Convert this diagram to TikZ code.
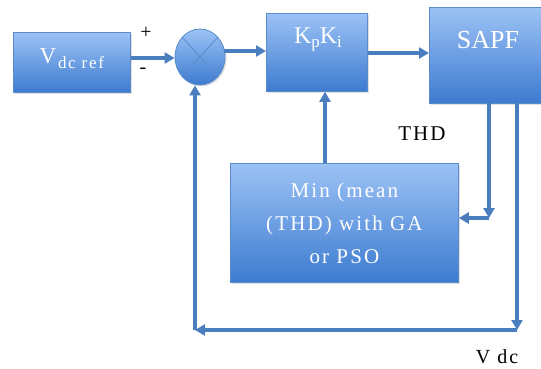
\documentclass[tikz,border=0pt]{standalone}
\usepackage{fontspec}
\setmainfont{Liberation Serif}
\newfontfamily\widefont[LetterSpace=10]{Liberation Serif}
\usetikzlibrary{arrows.meta,shadows,shapes.geometric}
\definecolor{lineblue}{HTML}{4A7EBF}
\definecolor{boxtop}{HTML}{9CC2F5}
\definecolor{boxbot}{HTML}{3D7BD0}
\definecolor{boxedge}{HTML}{5A8BCB}
\tikzset{
  blockbox/.style={draw=boxedge, line width=0.8pt, top color=boxtop, bottom color=boxbot,
    text=white, align=center, inner sep=0pt, anchor=north west,
    drop shadow={shadow xshift=1.5pt, shadow yshift=-1.5pt, opacity=0.25}},
  conn/.style={draw=lineblue, line width=3.2pt, -{Triangle[length=10pt,width=11pt]}},
  lbl/.style={text=black, inner sep=0pt},
  wtxt/.style={text=white, inner sep=0pt}
}
\begin{document}
\begin{tikzpicture}[x=1pt,y=-1pt]
\useasboundingbox (0,0) rectangle (541,369);
% blocks
\node[blockbox, minimum width=117pt, minimum height=60pt] (ref) at (13,32) {};
\node[wtxt, font=\fontsize{23}{23}\selectfont] (refV) at (48,56) {V};
\node[wtxt, font=\widefont\fontsize{17}{17}\selectfont] (refsub) at (81,63) {dc ref};
\node[blockbox, minimum width=101pt, minimum height=78pt] (pi) at (266,13) {};
\node[wtxt, font=\widefont\fontsize{24}{24}\selectfont] (pitxt) at (318,39) {K\raisebox{-4pt}{\fontsize{17}{17}\selectfont p}K\raisebox{-4pt}{\fontsize{17}{17}\selectfont i}};
\node[blockbox, minimum width=114pt, minimum height=96pt] (sapf) at (429,7) {};
\node[wtxt, font=\fontsize{26}{26}\selectfont] (sapftxt) at (488,40) {SAPF};
\node[blockbox, minimum width=228pt, minimum height=119pt, font=\widefont\fontsize{21}{33}\selectfont] (min) at (230,163) {Min (mean\\(THD) with GA\\or PSO};
% summing junction
\node[draw=boxedge, line width=0.8pt, top color=boxtop, bottom color=boxbot, ellipse, minimum width=50pt, minimum height=56pt, inner sep=0pt,
  drop shadow={shadow xshift=1.5pt, shadow yshift=-1.5pt, opacity=0.25}] (sum) at (200,57) {};
\draw[boxedge, line width=0.8pt] (sum.north west) -- (sum.south east) (sum.north east) -- (sum.south west);
% coordinates
\coordinate (thdtop) at (489,103);
\coordinate (thdcorner) at (489,218);
\coordinate (vdctop) at (517,103);
\coordinate (vdcbot) at (517,330);
\coordinate (leftcorner) at (195,330);
% connectors
\draw[conn] (ref.east |- 0,58) -- (sum.west |- 0,58);
\draw[conn] (224,51) -- (pi.west |- 0,51);
\draw[conn] (pi.east |- 0,53) -- (sapf.west |- 0,53);
\draw[conn] (min.north -| 325,0) -- (pi.south -| 325,0);
\draw[conn] (thdtop) -- (thdcorner);
\draw[conn] (thdcorner) -- (min.east |- thdcorner);
\draw[conn] (vdctop) -- (vdcbot);
\draw[conn] (vdcbot) -- (leftcorner);
\draw[conn] (leftcorner) -- (sum.south -| leftcorner);
% labels
\node[lbl, font=\fontsize{20}{20}\selectfont] (plus) at (146,33) {+};
\node[lbl, font=\fontsize{20}{20}\selectfont] (minus) at (143,71) {-};
\node[lbl, font=\widefont\fontsize{21}{21}\selectfont] (thd) at (422,134) {THD};
\node[lbl, font=\widefont\fontsize{20}{20}\selectfont] (vdc) at (497,357) {V dc};
\end{tikzpicture}
\end{document}
